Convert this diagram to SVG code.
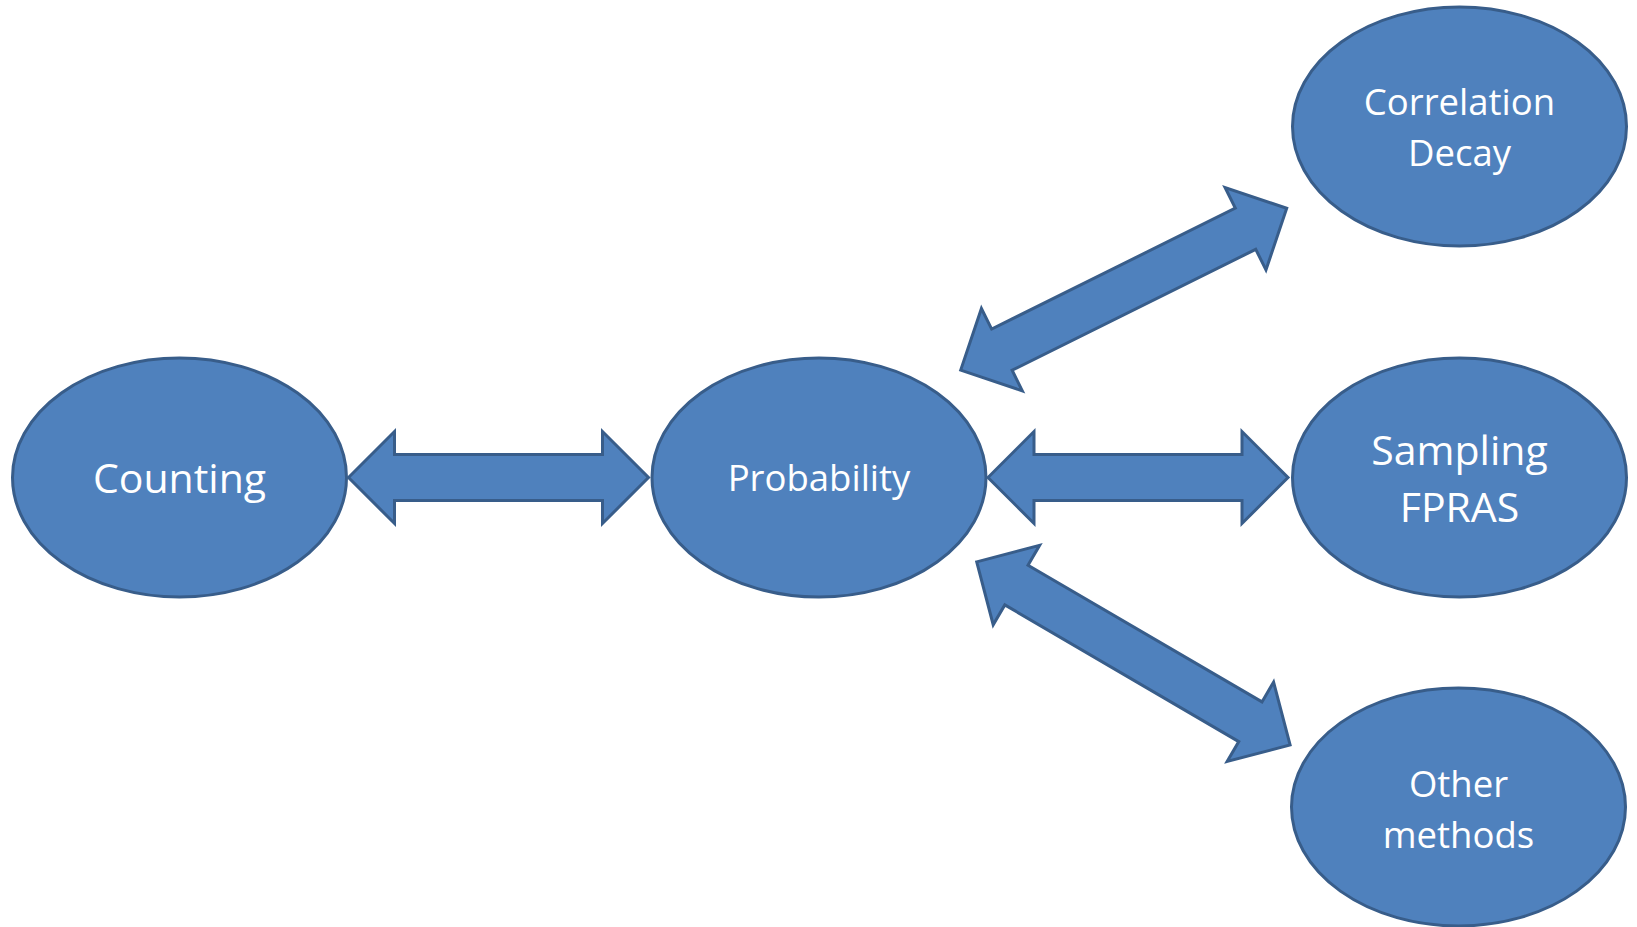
<svg xmlns="http://www.w3.org/2000/svg" width="1637" height="927" viewBox="0 0 1637 927">
<style>
.node{fill:#4F81BD;stroke:#385D8A;stroke-width:3}
.arrow{fill:#4F81BD;stroke:#385D8A;stroke-width:3;stroke-linejoin:miter}
.lbl{fill:#FFFFFF;font-family:"Open Sans","Noto Sans",sans-serif;text-anchor:middle}
.big{font-size:41px}
.sm{font-size:36.5px}
</style>
<rect width="1637" height="927" fill="#FFFFFF"/>
<g id="connectors">
<polygon class="arrow" transform="translate(498.5,477.5)" points="-150,0 -104,-46 -104,-23 104,-23 104,-46 150,0 104,46 104,23 -104,23 -104,46"/>
<polygon class="arrow" transform="translate(1138,477.5)" points="-150,0 -104,-46 -104,-23 104,-23 104,-46 150,0 104,46 104,23 -104,23 -104,46"/>
<polygon class="arrow" transform="translate(1123.7,289.2) rotate(-26.4)" points="-182,0 -136,-46 -136,-23 136,-23 136,-46 182,0 136,46 136,23 -136,23 -136,46"/>
<polygon class="arrow" transform="translate(1133.4,653.4) rotate(30.3)" points="-181.5,0 -135.5,-46 -135.5,-23 135.5,-23 135.5,-46 181.5,0 135.5,46 135.5,23 -135.5,23 -135.5,46"/>
</g>
<g id="counting">
<ellipse class="node" cx="179.5" cy="477.5" rx="167" ry="119.5"/>
<text class="lbl big" x="179.5" y="493">Counting</text>
</g>
<g id="probability">
<ellipse class="node" cx="819" cy="477.5" rx="167" ry="119.5"/>
<text class="lbl sm" x="819" y="491">Probability</text>
</g>
<g id="correlation-decay">
<ellipse class="node" cx="1459.5" cy="126.5" rx="167" ry="119.5"/>
<text class="lbl sm" x="1459.5" y="115">Correlation</text>
<text class="lbl sm" x="1459.5" y="166">Decay</text>
</g>
<g id="sampling-fpras">
<ellipse class="node" cx="1459.5" cy="477.5" rx="167" ry="119.5"/>
<text class="lbl big" x="1459.5" y="465">Sampling</text>
<text class="lbl big" x="1459.5" y="522">FPRAS</text>
</g>
<g id="other-methods">
<ellipse class="node" cx="1458.5" cy="807" rx="167" ry="119"/>
<text class="lbl sm" x="1458.5" y="797">Other</text>
<text class="lbl sm" x="1458.5" y="848">methods</text>
</g>
</svg>
